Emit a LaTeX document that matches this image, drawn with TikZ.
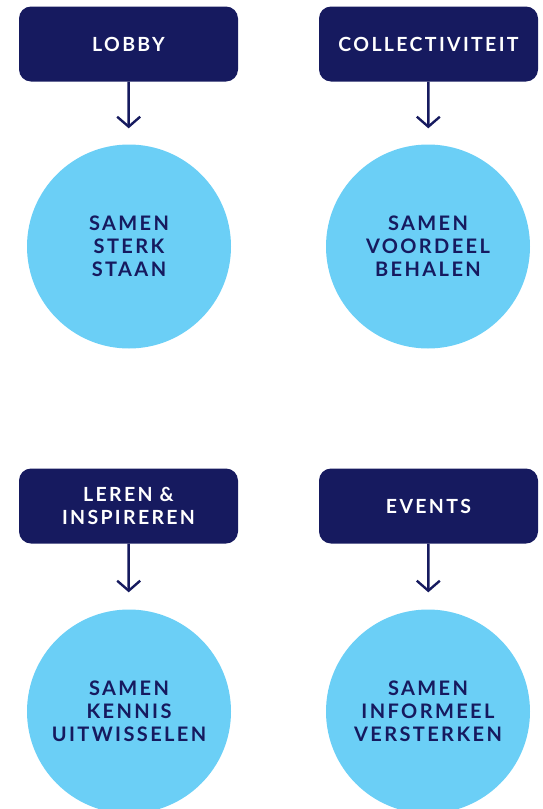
\documentclass[tikz,border=0pt]{standalone}
\usepackage{fontspec}
\usetikzlibrary{arrows.meta}
\newfontfamily\labfont[LetterSpace=12]{Lato}
\definecolor{navy}{HTML}{161A5F}
\definecolor{sky}{HTML}{6BCFF6}
\tikzset{
  hbox/.style={fill=navy, rounded corners=12pt, minimum width=219pt, minimum height=75pt,
    text=white, align=center, inner sep=0pt, font=\labfont\bfseries\fontsize{19.5}{23}\selectfont},
  circ/.style={circle, fill=sky, minimum size=204pt, inner sep=0pt, text=navy, align=center,
    font=\labfont\bfseries\fontsize{20}{23}\selectfont},
  arr/.style={draw=navy, line width=2.4pt, -{Straight Barb[length=10pt,width=23pt,line width=2.4pt]}}
}
\begin{document}
\begin{tikzpicture}[x=1pt,y=-1pt]
\useasboundingbox (0,0) rectangle (542,809);
\node[hbox] (b1) at (128.5,44) {LOBBY};
\node[hbox] (b2) at (428.5,44) {COLLECTIVITEIT};
\node[hbox] (b3) at (128.5,506) {LEREN \&\\INSPIREREN};
\node[hbox] (b4) at (428.5,506) {EVENTS};
\node[circ] (c1) at (129,246.5) {SAMEN\\STERK\\STAAN};
\node[circ] (c2) at (428,246.5) {SAMEN\\VOORDEEL\\BEHALEN};
\node[circ] (c3) at (129,711.5) {SAMEN\\KENNIS\\UITWISSELEN};
\node[circ] (c4) at (428,711.5) {SAMEN\\INFORMEEL\\VERSTERKEN};
\draw[arr, shorten >=16pt] (b1) -- (c1);
\draw[arr, shorten >=16pt] (b2) -- (c2);
\draw[arr, shorten >=17pt] (b3) -- (c3);
\draw[arr, shorten >=17pt] (b4) -- (c4);
\end{tikzpicture}
\end{document}
